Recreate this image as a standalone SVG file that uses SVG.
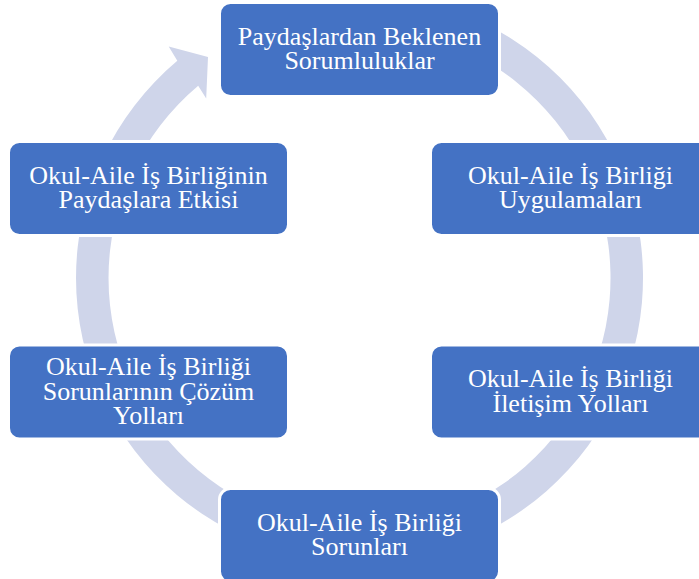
<svg xmlns="http://www.w3.org/2000/svg" width="699" height="579" viewBox="0 0 699 579">
<style>
.box{fill:#4472C4;stroke:#FFFFFF;stroke-width:3}
.t{font-family:"Liberation Serif","Times New Roman",serif;font-size:26px;fill:#FFFFFF;text-anchor:middle}
.ring{fill:#CFD5EA;stroke:none}
</style>
<rect width="699" height="579" fill="#FFFFFF"/>
<g id="connectors">
<path class="ring" d="M456.5,11.6 A283.5,283.5 0 1 1 177.3,60.8 L168.7,46.5 L208,57 L206.2,98.5 L198.2,85.7 A251,251 0 1 0 445.3,42.1 Z"/>
</g>
<g id="node1">
<rect class="box" x="219.5" y="2.5" width="280" height="94" rx="11"/>
<text class="t" x="359.5" y="44.5">Paydaşlardan Beklenen<tspan x="359.5" dy="24.5">Sorumluluklar</tspan></text>
</g>
<g id="node2">
<rect class="box" x="430.5" y="141.5" width="280" height="94" rx="11"/>
<text class="t" x="570.5" y="183.5">Okul-Aile İş Birliği<tspan x="570.5" dy="24.5">Uygulamaları</tspan></text>
</g>
<g id="node3">
<rect class="box" x="430.5" y="345" width="280" height="94" rx="11"/>
<text class="t" x="570.5" y="387">Okul-Aile İş Birliği<tspan x="570.5" dy="24.5">İletişim Yolları</tspan></text>
</g>
<g id="node4">
<rect class="box" x="219.5" y="488.5" width="280" height="94" rx="11"/>
<text class="t" x="359.5" y="530.5">Okul-Aile İş Birliği<tspan x="359.5" dy="24.5">Sorunları</tspan></text>
</g>
<g id="node5">
<rect class="box" x="8.5" y="345" width="280" height="94" rx="11"/>
<text class="t" x="148.5" y="375">Okul-Aile İş Birliği<tspan x="148.5" dy="24.5">Sorunlarının Çözüm</tspan><tspan x="148.5" dy="24.5">Yolları</tspan></text>
</g>
<g id="node6">
<rect class="box" x="8.5" y="141.5" width="280" height="94" rx="11"/>
<text class="t" x="148.5" y="183.5">Okul-Aile İş Birliğinin<tspan x="148.5" dy="24.5">Paydaşlara Etkisi</tspan></text>
</g>
</svg>
